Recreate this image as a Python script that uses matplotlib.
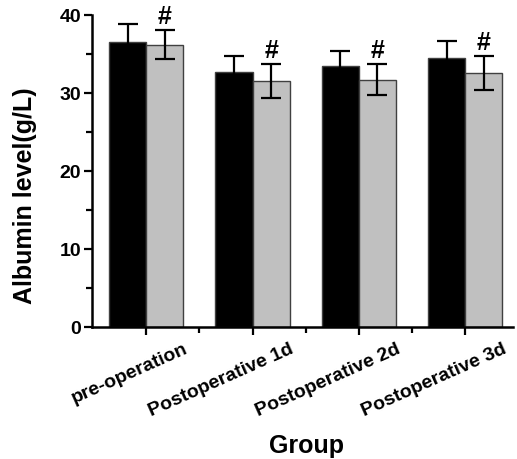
import matplotlib.pyplot as plt
import numpy as np
from matplotlib.ticker import MultipleLocator

plt.rcParams['font.family'] = ['Liberation Sans', 'DejaVu Sans']
plt.rcParams['font.weight'] = 'bold'

# data
groups = ['pre-operation', 'Postoperative 1d', 'Postoperative 2d', 'Postoperative 3d']
black_mean = [36.5, 32.65, 33.4, 34.45]
black_sd = [2.3, 2.05, 1.95, 2.25]
gray_mean = [36.2, 31.5, 31.7, 32.55]
gray_sd = [1.9, 2.2, 2.0, 2.15]
marks = ['#', '#', '#', '#']

fig = plt.figure(figsize=(5.17, 4.6), dpi=100)
ax = fig.add_axes([92/517, 1-327.7/460, (513-92)/517, (327.7-16)/460])

x = np.arange(len(groups))
w = 0.35
ax.bar(x - w/2, black_mean, w, color='black', edgecolor='#404040', linewidth=1, zorder=2)
ax.bar(x + w/2, gray_mean, w, color='#c0c0c0', edgecolor='#404040', linewidth=1, zorder=2)

# error bars (only the half above the bar shows on the black bars)
ax.errorbar(x - w/2, black_mean, yerr=black_sd, fmt='none', ecolor='black',
            elinewidth=1.6, capsize=7.5, capthick=1.6, zorder=3, clip_on=False)
ax.errorbar(x + w/2, gray_mean, yerr=gray_sd, fmt='none', ecolor='black',
            elinewidth=1.6, capsize=7.5, capthick=1.6, zorder=3, clip_on=False)

for xi, m, s, t in zip(x, gray_mean, gray_sd, marks):
    ax.annotate(t, (xi + w/2, m + s), xytext=(0, 2), textcoords='offset pixels',
                ha='center', va='bottom', fontsize=18, fontweight='bold', annotation_clip=False)

ax.set_xlim(-0.51, 3.45)
ax.set_ylim(0, 40)
ax.yaxis.set_major_locator(MultipleLocator(10))
ax.yaxis.set_minor_locator(MultipleLocator(5))
ax.set_xticks(x)
ax.set_xticks(x[:-1] + 0.5, minor=True)
ax.set_xticklabels([])
ax.tick_params(axis='both', which='major', length=6, width=1.6, labelsize=14, pad=2)
ax.tick_params(axis='both', which='minor', length=4, width=1.6)
for lbl in ax.get_yticklabels():
    lbl.set_fontweight('bold')

for sp in ['top', 'right']:
    ax.spines[sp].set_visible(False)
for sp in ['left', 'bottom']:
    ax.spines[sp].set_linewidth(1.8)

# rotated group labels
for xi, g in zip(x, groups):
    ax.annotate(g, (xi, 0), xycoords=('data', 'axes fraction'),
                xytext=(37, -13), textcoords='offset pixels',
                ha='right', va='top', rotation=24, rotation_mode='anchor',
                fontsize=14, fontweight='bold', annotation_clip=False)

fig.text(25/517, 1-196/460, 'Albumin level(g/L)', rotation=90, ha='center', va='center',
         fontsize=18, fontweight='bold')
fig.text(307/517, 1-453/460, 'Group', ha='center', va='baseline', fontsize=18, fontweight='bold')

fig.savefig('out.png', dpi=100)
